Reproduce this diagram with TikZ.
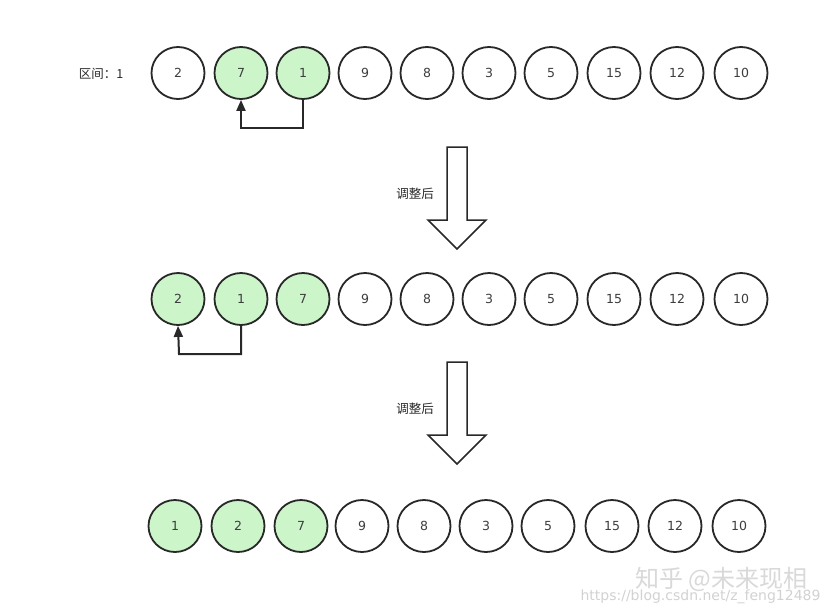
\documentclass[tikz,border=0pt]{standalone}
\usepackage{fontspec}
\setmainfont{DejaVu Sans}
\newfontfamily\cjk{Noto Sans CJK SC}
\usetikzlibrary{arrows.meta,shapes.geometric}
\definecolor{lgreen}{RGB}{204,245,202}
\definecolor{dline}{RGB}{40,40,40}
\tikzset{
  ball/.style={ellipse, draw=dline, line width=1.8pt, minimum width=53pt, minimum height=52pt, inner sep=0pt, font=\fontsize{12.5}{14}\selectfont, text=dline!90},
  gball/.style={ball, fill=lgreen},
  wball/.style={ball, fill=white},
  swap/.style={draw=dline, line width=2pt, -{Triangle[length=11pt,width=9pt]}},
  bigarrow/.style={draw=dline, line width=1.5pt, fill=white},
  lbl/.style={font=\cjk\fontsize{12.5}{14}\selectfont, text=dline}
}
\begin{document}
\begin{tikzpicture}[x=1pt,y=-1pt]
\useasboundingbox[fill=white] (0,0) rectangle (831,614);
% row 1
\node[lbl] (l1) at (101,74) {区间：1};
\foreach \n/\x/\t/\s in {a1/178/2/wball,a2/241/7/gball,a3/303/1/gball,a4/365/9/wball,a5/427/8/wball,a6/489/3/wball,a7/551/5/wball,a8/614/15/wball,a9/677/12/wball,a10/741/10/wball}
  \node[\s] (\n) at (\x,73) {\t};
\coordinate (c1) at (303,128);
\coordinate (c2) at (241,128);
\draw[swap] (a3.south) -- (c1) -- (c2) -- (a2.south);
% big arrow 1
\draw[bigarrow] (447,147) -- (467,147) -- (467,220) -- (486,220) -- (457,249) -- (428,220) -- (447,220) -- cycle;
\node[lbl] (t1) at (415,194) {调整后};
% row 2
\foreach \n/\x/\t/\s in {b1/178/2/gball,b2/241/1/gball,b3/303/7/gball,b4/365/9/wball,b5/427/8/wball,b6/489/3/wball,b7/551/5/wball,b8/614/15/wball,b9/677/12/wball,b10/741/10/wball}
  \node[\s] (\n) at (\x,299) {\t};
\coordinate (d1) at (241,354);
\coordinate (d2) at (179,354);
\draw[swap] (b2.south) -- (d1) -- (d2) -- (b1.south);
% big arrow 2
\draw[bigarrow] (447,362) -- (467,362) -- (467,435) -- (486,435) -- (457,464) -- (428,435) -- (447,435) -- cycle;
\node[lbl] (t2) at (415,409) {调整后};
% row 3
\foreach \n/\x/\t/\s in {c1/175/1/gball,c2/238/2/gball,c3/301/7/gball,c4/362/9/wball,c5/424/8/wball,c6/486/3/wball,c7/548/5/wball,c8/612/15/wball,c9/675/12/wball,c10/739/10/wball}
  \node[\s] (\n) at (\x,526) {\t};
% watermark
\node[font=\cjk\fontsize{24}{26}\selectfont, text=gray!30, anchor=east] (w1) at (811,579) {知乎 @未来现相};
\node[font=\fontsize{14}{16}\selectfont, text=gray!35, anchor=east] (w2) at (824,597) {https://blog.csdn.net/z\_feng12489};
\end{tikzpicture}
\end{document}
